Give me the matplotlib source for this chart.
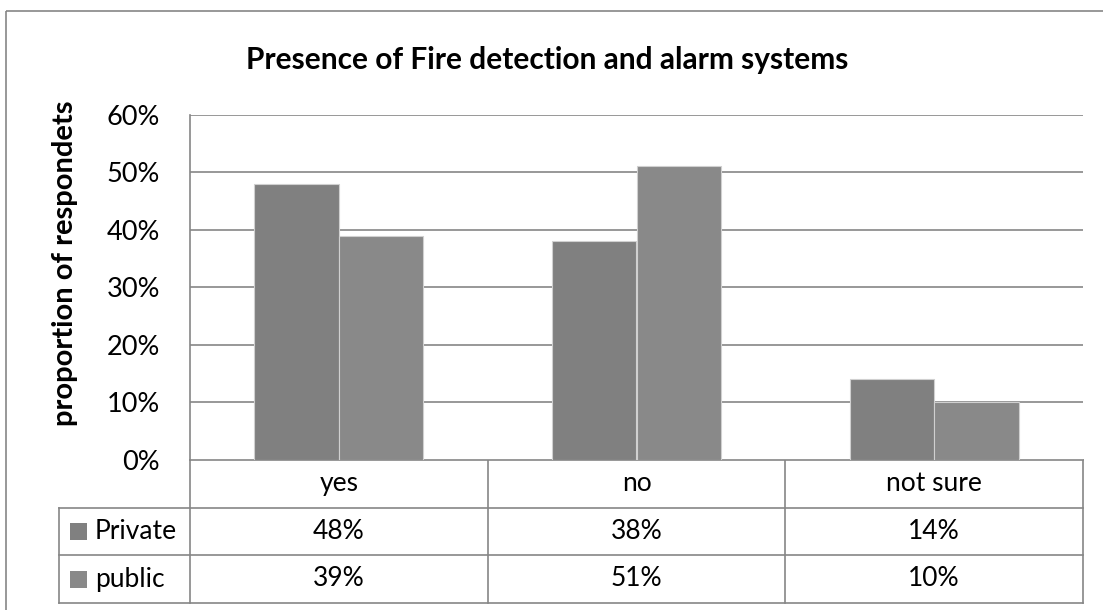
import matplotlib
matplotlib.use("Agg")
import matplotlib.pyplot as plt
from matplotlib.patches import Rectangle

plt.rcParams["font.family"] = ["Lato", "DejaVu Sans"]

# data
categories = ["yes", "no", "not sure"]
series_names = ["Private", "public"]
private_vals = [48, 38, 14]
public_vals = [39, 51, 10]
yticks = [0, 10, 20, 30, 40, 50, 60]

title = "Presence of Fire detection and alarm systems"
ylabel = "proportion of respondets"

W, H = 1103, 610
colors = ["#808080", "#898989"]
line_c = "#868686"
fs = 19

fig = plt.figure(figsize=(W / 100, H / 100), dpi=100)

# overlay in pixel coordinates for border, title and table
ov = fig.add_axes([0, 0, 1, 1])
ov.set_xlim(0, W)
ov.set_ylim(H, 0)
ov.axis("off")

# main plot area (pixels)
L, R, T, B = 190, 1083, 114.7, 460
ax = fig.add_axes([L / W, 1 - B / H, (R - L) / W, (B - T) / H])

x = list(range(len(categories)))
bw = 0.284
ax.bar([i - bw / 2 for i in x], private_vals, bw, color=colors[0],
       edgecolor="#d0d0d0", linewidth=0.8, zorder=3)
ax.bar([i + bw / 2 for i in x], public_vals, bw, color=colors[1],
       edgecolor="#d0d0d0", linewidth=0.8, zorder=3)
ax.set_xlim(-0.5, len(categories) - 0.5)
ax.set_ylim(0, 60)
ax.set_yticks(yticks)
ax.set_yticklabels([f"{v}%" for v in yticks], fontsize=fs + 0.5)
ax.set_xticks([])
ax.tick_params(axis="y", length=0, pad=21.6)
for v in yticks:
    ax.axhline(v, color=line_c, linewidth=1.2, zorder=1)
for s in ["top", "right", "bottom"]:
    ax.spines[s].set_visible(False)
ax.spines["left"].set_color(line_c)
ax.spines["left"].set_linewidth(1.2)

# outer chart border
ov.add_patch(Rectangle((6, 11), W + 10, H + 10, fill=False, edgecolor=line_c, linewidth=1.2))

ov.text(547, 60, title, fontsize=21.5, fontweight="bold",
        ha="center", va="center")
ov.text(65, 263, ylabel, fontsize=21, fontweight="bold",
        rotation=90, ha="center", va="center")

# data table under the axis
row_h = 47.6
rows_y = [B + k * row_h for k in range(4)]
col_w = (R - L) / len(categories)
cols_x = [L + k * col_w for k in range(len(categories) + 1)]
tab_left = 59
lw = 1.2
for cx in cols_x:
    ov.plot([cx, cx], [rows_y[0], rows_y[-1]], color=line_c, lw=lw)
ov.plot([tab_left, tab_left], [rows_y[1], rows_y[-1]], color=line_c, lw=lw)
for k, ry in enumerate(rows_y):
    x0 = L if k == 0 else tab_left
    ov.plot([x0, R], [ry, ry], color=line_c, lw=lw)

for j, cat in enumerate(categories):
    cx = cols_x[j] + col_w / 2
    ov.text(cx, rows_y[0] + row_h / 2, cat, fontsize=fs, ha="center", va="center")
    for k, vals in enumerate([private_vals, public_vals]):
        ov.text(cx, rows_y[k + 1] + row_h / 2, f"{vals[j]}%", fontsize=fs,
                ha="center", va="center")

for k, name in enumerate(series_names):
    cy = rows_y[k + 1] + row_h / 2
    ov.add_patch(Rectangle((70, cy - 8), 17, 17, color=colors[k], linewidth=0))
    ov.text(95, cy, name, fontsize=fs, ha="left", va="center")

fig.savefig("out.png", dpi=100)
